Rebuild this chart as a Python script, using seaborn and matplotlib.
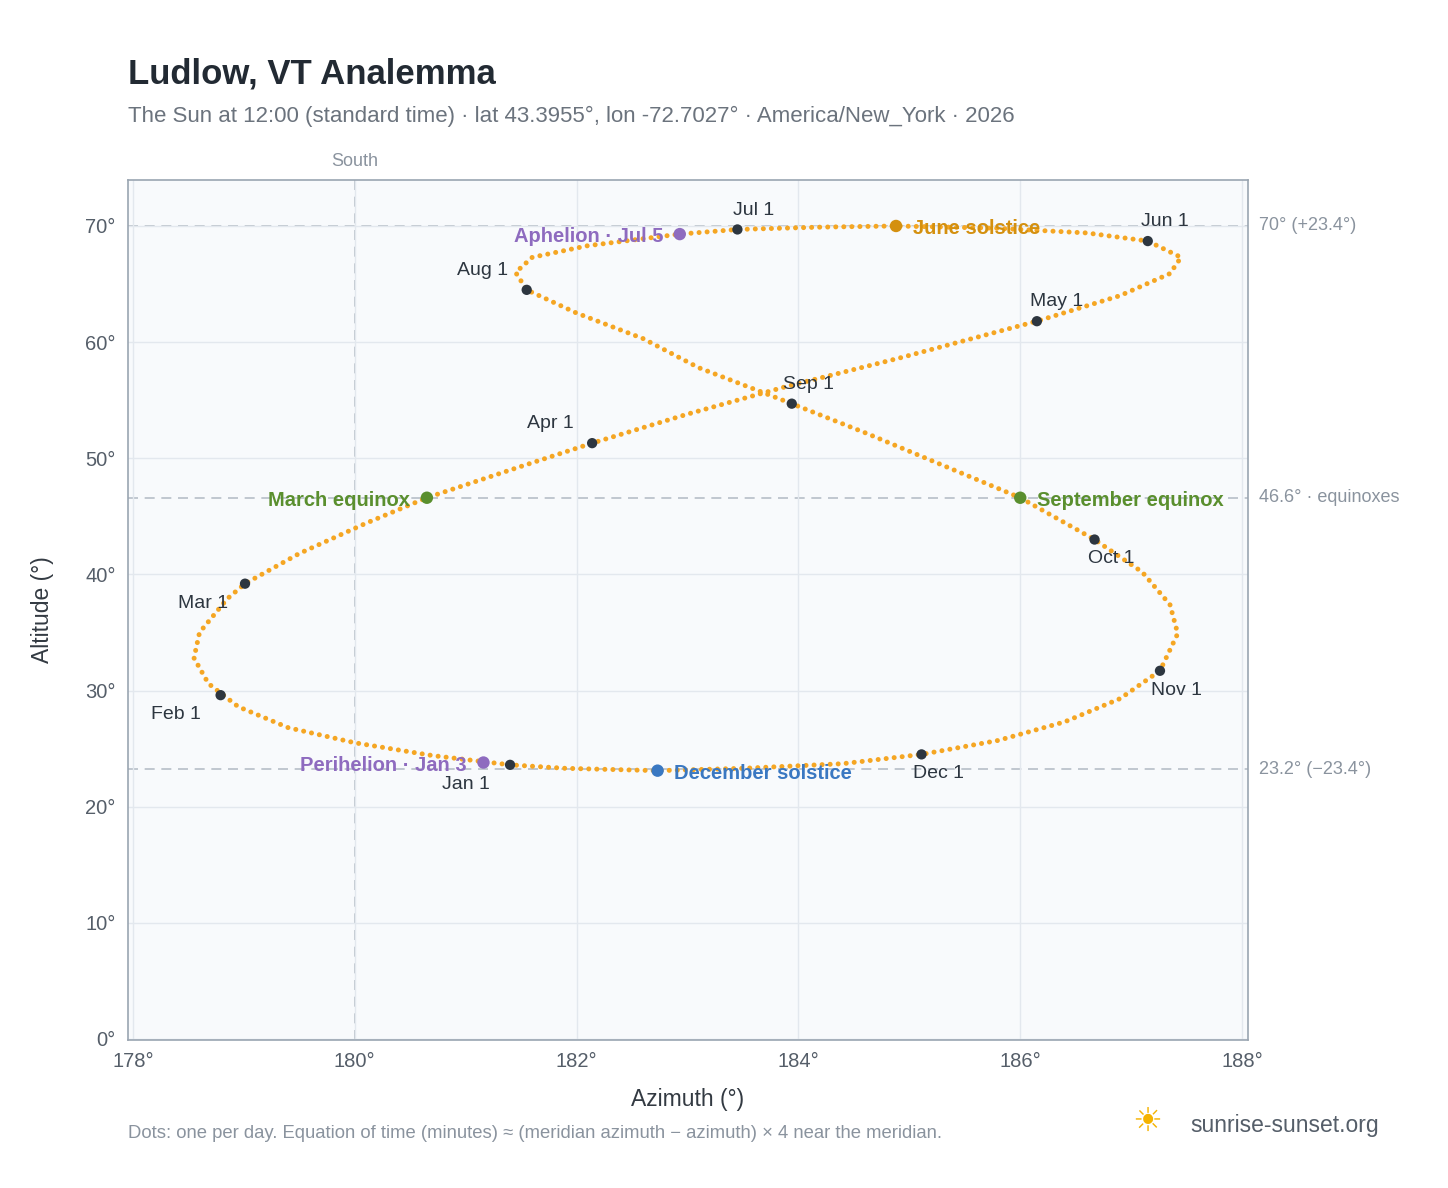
import matplotlib
matplotlib.use("Agg")
import matplotlib.pyplot as plt
import seaborn as sns
import pandas as pd

sns.set_theme(style="whitegrid")
plt.rcParams['font.family'] = ['Liberation Sans', 'DejaVu Sans']

# Sun position at noon (roughly weekly)
azimuth = [181.40, 180.7, 180.0, 179.4, 178.95, 178.68, 178.55, 178.6, 178.85, 179.01, 179.5, 180.1,
           180.65, 181.5, 182.14, 183.0, 183.9, 184.9, 186.15, 186.9, 187.35, 187.45, 187.15, 186.6,
           185.8, 184.88, 184.2, 183.45, 182.93, 182.1, 181.6, 181.45, 181.55, 182.0, 182.6, 183.1,
           183.94, 184.6, 185.3, 186.0, 186.67, 187.1, 187.35, 187.42, 187.26, 186.9, 186.4, 185.8,
           185.11, 184.4, 183.5, 182.73, 181.9, 181.40]
altitude = [23.6, 24.4, 25.5, 26.8, 28.6, 30.6, 32.8, 35.0, 37.9, 39.2, 41.8, 44.4,
            46.6, 49.3, 51.3, 53.8, 56.2, 58.6, 61.8, 64.0, 65.9, 67.3, 68.7, 69.4,
            69.8, 70.0, 69.9, 69.7, 69.3, 68.3, 67.3, 66.0, 64.5, 62.5, 60.3, 57.8,
            54.7, 52.2, 49.4, 46.6, 43.0, 40.2, 37.4, 34.9, 31.7, 29.3, 27.3, 25.7,
            24.5, 23.7, 23.3, 23.1, 23.3, 23.6]

month_labels = ["Jan 1", "Feb 1", "Mar 1", "Apr 1", "May 1", "Jun 1", "Jul 1", "Aug 1", "Sep 1", "Oct 1", "Nov 1", "Dec 1"]
month_az = [181.40, 178.79, 179.01, 182.14, 186.15, 187.15, 183.45, 181.55, 183.94, 186.67, 187.26, 185.11]
month_alt = [23.6, 29.6, 39.2, 51.3, 61.8, 68.7, 69.7, 64.5, 54.7, 43.0, 31.7, 24.5]
month_off = [(-32, -14), (-32, -14), (-30, -14), (-30, 14), (14, 14), (12, 14), (12, 14), (-32, 14), (12, 14), (12, -14), (12, -14), (12, -14)]

events = ["Perihelion · Jan 3", "March equinox", "June solstice", "Aphelion · Jul 5", "September equinox", "December solstice"]
event_az = [181.16, 180.65, 184.88, 182.93, 186.0, 182.73]
event_alt = [23.8, 46.6, 70.0, 69.3, 46.6, 23.1]
event_col = ["#8e6bbf", "#5a8f2e", "#d4900f", "#8e6bbf", "#5a8f2e", "#3a78c2"]
event_side = ["left", "left", "right", "left", "right", "right"]

ref_lines = [70.0, 46.6, 23.2]
ref_labels = ["70° (+23.4°)", "46.6° · equinoxes", "23.2° (−23.4°)"]

fig = plt.figure(figsize=(14.48, 11.88), dpi=100)
ax = fig.add_axes([0.0884, 0.1246, 0.7735, 0.7239])
ax.set_facecolor("#f8fafc")
for s in ax.spines.values():
    s.set_color("#9aa5b1"); s.set_linewidth(1.2)
ax.grid(color="#e3e8ee", linewidth=1)

df = pd.DataFrame({"az": azimuth, "alt": altitude})
sns.lineplot(data=df, x="az", y="alt", sort=False, ax=ax, color="#f5a623",
             linewidth=3.6, linestyle=(0, (0.01, 1.6)), dash_capstyle="round", estimator=None)

for y, lab in zip(ref_lines, ref_labels):
    ax.axhline(y, color="#b6bec8", lw=1.2, ls=(0, (6, 4)), zorder=0.5)
    ax.text(1.01, y, lab, transform=ax.get_yaxis_transform(), va="center", ha="left", fontsize=13, color="#8a939e")
ax.axvline(180, color="#b6bec8", lw=1.2, ls=(0, (6, 4)), zorder=0.5)
ax.text(180, 74.8, "South", ha="center", va="bottom", fontsize=13, color="#8a939e")

sns.scatterplot(x=month_az, y=month_alt, ax=ax, color="#2d3640", s=55, edgecolor="none", zorder=4)
for lab, x, y, (dx, dy) in zip(month_labels, month_az, month_alt, month_off):
    ax.annotate(lab, (x, y), xytext=(dx, dy), textcoords="offset points", fontsize=14, color="#2d3640",
                ha="center", va="center")

for lab, x, y, c, side in zip(events, event_az, event_alt, event_col, event_side):
    ax.scatter([x], [y], color=c, s=80, zorder=5, edgecolor="none")
    ax.annotate(lab, (x, y), xytext=(-12 if side == "left" else 12, -2), textcoords="offset points",
                fontsize=14.5, fontweight="bold", color=c, ha="right" if side == "left" else "left", va="center")

ax.set_xlim(177.955, 188.054)
ax.set_ylim(-0.09, 73.96)
ax.set_xticks(range(178, 189, 2))
ax.set_xticklabels([f"{v}°" for v in range(178, 189, 2)])
ax.set_yticks(range(0, 71, 10))
ax.set_yticklabels([f"{v}°" for v in range(0, 71, 10)])
ax.tick_params(labelsize=14.5, colors="#555e69", length=0, pad=9)
ax.set_xlabel("Azimuth (°)", fontsize=16.5, color="#333a42", labelpad=12)
ax.set_ylabel("Altitude (°)", fontsize=16.5, color="#333a42", labelpad=22)

fig.text(0.0884, 0.938, "Ludlow, VT Analemma", fontsize=25, fontweight="bold", color="#222a33", va="center")
fig.text(0.0884, 0.902, "The Sun at 12:00 (standard time) · lat 43.3955°, lon -72.7027° · America/New_York · 2026",
         fontsize=16, color="#6b737d", va="center")
fig.text(0.0884, 0.046, "Dots: one per day. Equation of time (minutes) ≈ (meridian azimuth − azimuth) × 4 near the meridian.",
         fontsize=13.3, color="#8a939e", va="center")
fig.text(0.822, 0.053, "sunrise-sunset.org", fontsize=16.5, color="#555e69", va="center")
fig.text(0.792, 0.055, "☀", fontsize=24, color="#f5b301", va="center", ha="center", family=["DejaVu Sans"])

fig.savefig("out.png", dpi=100)
